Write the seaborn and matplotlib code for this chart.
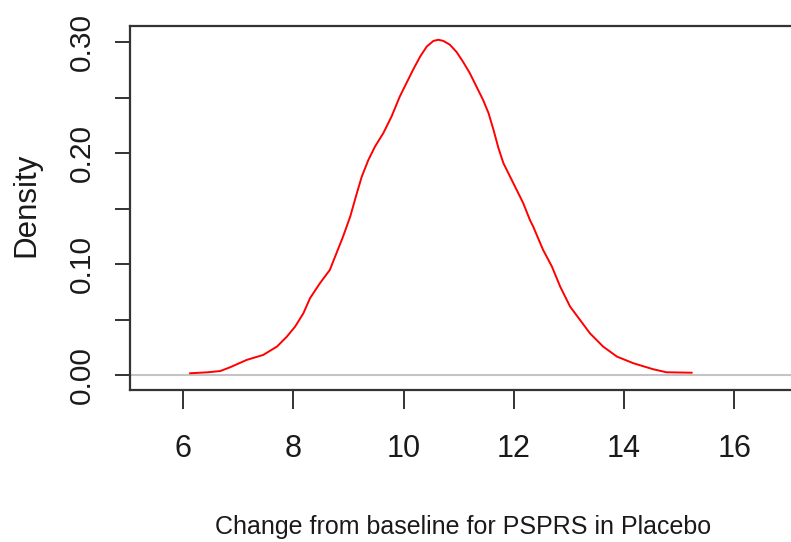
import matplotlib
matplotlib.use("Agg")
import matplotlib.pyplot as plt
import seaborn as sns
import pandas as pd
from matplotlib import font_manager

# Data
x_vals = [6.12, 6.45, 6.67, 6.85, 7.15, 7.45, 7.70, 7.88, 8.03, 8.18, 8.30, 8.48,
          8.66, 8.78, 8.90, 9.03, 9.15, 9.24, 9.36, 9.48, 9.63, 9.78, 9.93, 10.05,
          10.17, 10.30, 10.42, 10.54, 10.63, 10.72, 10.84, 10.96, 11.08, 11.20, 11.32,
          11.44, 11.54, 11.63, 11.72, 11.81, 11.93, 12.05, 12.17, 12.29, 12.35, 12.53,
          12.69, 12.84, 13.02, 13.20, 13.38, 13.62, 13.87, 14.17, 14.53, 14.77, 15.23]
density = [0.0020, 0.0029, 0.0040, 0.0074, 0.0140, 0.0185, 0.0260, 0.0350, 0.0440,
           0.0560, 0.0695, 0.0830, 0.0950, 0.1100, 0.1250, 0.1430, 0.1640, 0.1790,
           0.1940, 0.2060, 0.2180, 0.2330, 0.2510, 0.2630, 0.2750, 0.2870, 0.2960,
           0.3010, 0.3020, 0.3010, 0.2975, 0.2910, 0.2820, 0.2720, 0.2600, 0.2480,
           0.2360, 0.2210, 0.2045, 0.1910, 0.1790, 0.1670, 0.1550, 0.1400, 0.1340,
           0.1130, 0.0980, 0.0800, 0.0620, 0.0500, 0.0380, 0.0260, 0.0170, 0.0110,
           0.0056, 0.0029, 0.0025]
x_ticks = [6, 8, 10, 12, 14, 16]
y_ticks = [0.00, 0.05, 0.10, 0.15, 0.20, 0.25, 0.30]
y_tick_labels = ["0.00", "", "0.10", "", "0.20", "", "0.30"]
x_label = "Change from baseline for PSPRS in Placebo"
y_label = "Density"

df = pd.DataFrame({"x": x_vals, "density": density})

sns.set_style("white")
names = {f.name for f in font_manager.fontManager.ttflist}
regular = "Liberation Sans" if "Liberation Sans" in names else "DejaVu Sans"
plt.rcParams["font.family"] = [regular, "DejaVu Sans"]

fig = plt.figure(figsize=(7.91, 5.42), dpi=100)
ax = fig.add_axes([130 / 791, 152.5 / 542, 687.1 / 791, 363.5 / 542])

ax.axhline(0, color="#c4c4c4", lw=1.5, zorder=1)
sns.lineplot(data=df, x="x", y="density", color="#ff0000", lw=1.4, ax=ax, zorder=2)

ax.set_xlim(5.033, 5.033 + 687.1 / 55.1)
ax.set_ylim(-0.0126, 0.3144)

ax.set_xticks(x_ticks)
ax.set_xticklabels([str(t) for t in x_ticks], fontsize=22, color="#1a1a1a")
ax.set_yticks(y_ticks)
ax.set_yticklabels(y_tick_labels, rotation=90, va="center", fontsize=21.5, color="#1a1a1a")

ax.tick_params(axis="x", length=14, width=1.4, color="#333333", pad=18, direction="out", bottom=True)
ax.tick_params(axis="y", length=10.8, width=1.4, color="#333333", pad=14, direction="out", left=True)

for s in ["left", "top", "bottom", "right"]:
    ax.spines[s].set_visible(True)
    ax.spines[s].set_color("#333333")
    ax.spines[s].set_linewidth(1.6)

ax.set_xlabel(x_label, fontsize=18, color="#1a1a1a", va="center")
ax.xaxis.set_label_coords((463 - 130) / 687.1, (389.5 - 527) / 363.5)
ax.set_ylabel(y_label, fontsize=22.5, color="#1a1a1a", va="center")
ax.yaxis.set_label_coords((26 - 130) / 687.1, (389.5 - 205) / 363.5)

fig.savefig("out.png", dpi=100)
